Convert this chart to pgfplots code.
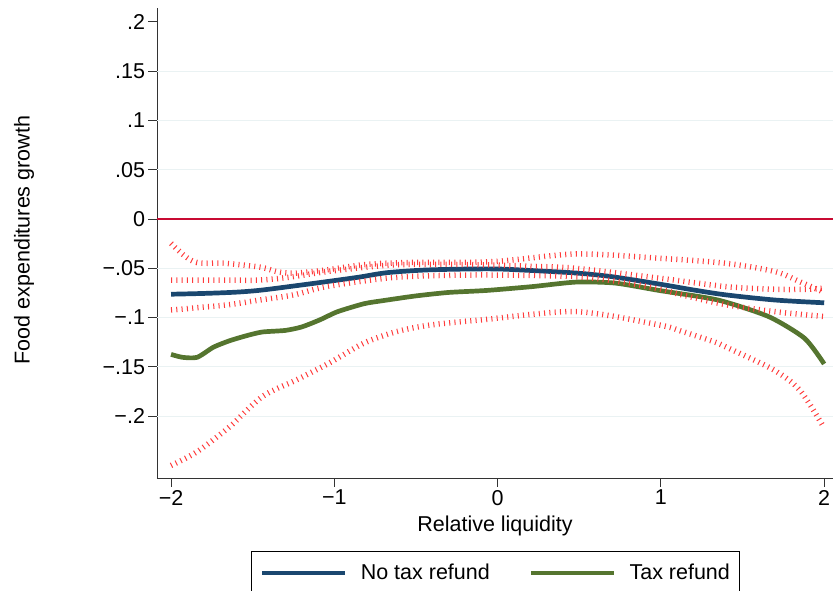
\documentclass[border=0pt]{standalone}
\usepackage{fontspec}
\setmainfont{Liberation Sans}
\usepackage{pgfplots}
\pgfplotsset{compat=1.18}
\definecolor{sblue}{RGB}{26,71,111}
\definecolor{sgreen}{RGB}{85,117,47}
\definecolor{zred}{RGB}{200,10,50}
\definecolor{cired}{RGB}{255,60,60}
\definecolor{gridc}{RGB}{234,242,243}
\newcommand{\fs}{\fontsize{21.5}{25}\selectfont}
\begin{document}
\begin{tikzpicture}
\path[use as bounding box] (-157pt,-112pt) rectangle (676pt,478pt);
\begin{axis}[
 at={(0pt,0pt)}, anchor=south west, scale only axis, width=676pt, height=470pt,
 xmin=-2.086, xmax=2.054, ymin=-0.2627, ymax=0.214,
 axis x line*=bottom, axis y line*=left,
 axis line style={-, line width=0.9pt, black!80},
 xtick={-2,-1,0,1,2}, xticklabels={−2,−1,0,1,2},
 ytick={-0.2,-0.15,-0.1,-0.05,0,0.05,0.1,0.15,0.2},
 yticklabels={−.2,−.15,−.1,−.05,0,.05,.1,.15,.2},
 extra y ticks={-0.2,-0.15,-0.1,-0.05,0.05,0.1,0.15},
 extra y tick labels={},
 extra y tick style={grid=major, major tick length=0pt},
 grid style={gridc, line width=1.2pt},
 tick align=outside, major tick length=8.5pt,
 tick style={line width=0.9pt, black!80},
 tick label style={font=\fs},
 xlabel={Relative liquidity}, ylabel={Food expenditures growth},
 label style={font=\fs},
 xlabel style={at={(axis description cs:0.5,-0.1021)}, anchor=center},
 ylabel style={at={(axis description cs:-0.1967,0.5064)}, anchor=center},
 legend style={at={(axis description cs:0.5,-0.1553)}, anchor=north, draw=black, line width=0.8pt, font=\fs, inner xsep=9pt, inner ysep=13pt, nodes={inner sep=0pt}, legend columns=2, /tikz/every odd column/.append style={column sep=13pt}, /tikz/every even column/.append style={column sep=39pt}},
 legend image code/.code={\draw[#1] (0pt,0pt) -- (83pt,0pt);},
]
\addplot[zred, line width=1.6pt, forget plot] coordinates {(-2.086,0) (2.054,0)};
\addplot[sblue, line width=4.7pt, smooth] coordinates {
(-2.00,-0.0763) (-1.80,-0.0755) (-1.60,-0.0742) (-1.45,-0.0722) (-1.25,-0.0680)
(-1.05,-0.0636) (-0.85,-0.0590) (-0.68,-0.0545) (-0.45,-0.0518) (-0.20,-0.0508)
(0.00,-0.0507) (0.20,-0.0522) (0.48,-0.0548) (0.70,-0.0585) (0.99,-0.0660)
(1.20,-0.0720) (1.40,-0.0770) (1.70,-0.0822) (2.00,-0.0850)};
\addlegendentry{No tax refund}
\addplot[sgreen, line width=4.7pt, smooth, tension=0.4] coordinates {
(-2.00,-0.1373) (-1.93,-0.1403) (-1.84,-0.1403) (-1.74,-0.1300) (-1.64,-0.1234)
(-1.53,-0.1180) (-1.44,-0.1146) (-1.30,-0.1130) (-1.20,-0.1095) (-1.09,-0.1024)
(-0.98,-0.0940) (-0.82,-0.0860) (-0.71,-0.0830) (-0.50,-0.0780) (-0.30,-0.0745)
(-0.07,-0.0725) (0.21,-0.0686) (0.48,-0.0640) (0.72,-0.0650) (0.99,-0.0725)
(1.35,-0.0822) (1.66,-0.0990) (1.88,-0.1210) (2.00,-0.1470)};
\addlegendentry{Tax refund}
\pgfplotsset{cistyle/.style={cired, line width=5.5pt, dash pattern=on 1pt off 4.3pt, smooth, forget plot}}
% blue CI upper
\addplot[cistyle] coordinates {
(-2.00,-0.0619) (-1.66,-0.0620) (-1.45,-0.0619) (-1.25,-0.0585) (-1.05,-0.0534)
(-0.68,-0.0470) (-0.40,-0.0460) (-0.03,-0.0467) (0.20,-0.0480) (0.48,-0.0500)
(0.99,-0.0600) (1.40,-0.0686) (1.70,-0.0713) (1.90,-0.0713) (2.00,-0.0700)};
% blue CI lower
\addplot[cistyle] coordinates {
(-2.00,-0.0923) (-1.66,-0.0872) (-1.45,-0.0820) (-1.25,-0.0770) (-1.05,-0.0686)
(-0.68,-0.0600) (-0.40,-0.0575) (-0.05,-0.0568) (0.48,-0.0585) (0.80,-0.0650)
(0.99,-0.0710) (1.13,-0.0770) (1.40,-0.0870) (1.70,-0.0940) (2.00,-0.0990)};
% green CI upper
\addplot[cistyle] coordinates {
(-2.00,-0.0247) (-1.86,-0.0433) (-1.66,-0.0450) (-1.45,-0.0490) (-1.35,-0.0534)
(-1.25,-0.0550) (-1.05,-0.0517) (-0.80,-0.0460) (-0.50,-0.0440) (-0.03,-0.0433)
(0.48,-0.0355) (0.99,-0.0398) (1.40,-0.0450) (1.70,-0.0534) (1.85,-0.0636) (1.99,-0.0737)};
% green CI lower
\addplot[cistyle] coordinates {
(-2.00,-0.2500) (-1.84,-0.2360) (-1.64,-0.2105) (-1.44,-0.1800) (-1.23,-0.1630)
(-1.03,-0.1460) (-0.82,-0.1260) (-0.62,-0.1143) (-0.41,-0.1075) (-0.07,-0.1018)
(0.48,-0.0940) (0.99,-0.1075) (1.13,-0.1140) (1.35,-0.1260) (1.44,-0.1330)
(1.69,-0.1530) (1.85,-0.1734) (2.00,-0.2120)};
\end{axis}
\end{tikzpicture}
\end{document}
